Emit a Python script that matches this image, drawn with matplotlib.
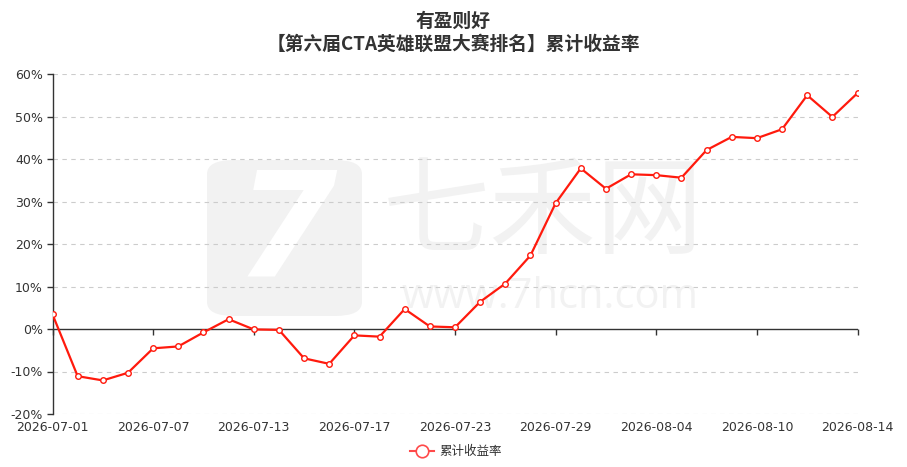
import matplotlib
matplotlib.use("Agg")
import matplotlib.pyplot as plt
from matplotlib.lines import Line2D
from matplotlib.patches import FancyBboxPatch

plt.rcParams['font.family'] = ['Noto Sans CJK SC', 'DejaVu Sans']

dates = ['2026-07-01', '2026-07-02', '2026-07-03', '2026-07-06', '2026-07-07',
         '2026-07-08', '2026-07-09', '2026-07-10', '2026-07-13', '2026-07-14',
         '2026-07-15', '2026-07-16', '2026-07-17', '2026-07-20', '2026-07-21',
         '2026-07-22', '2026-07-23', '2026-07-24', '2026-07-27', '2026-07-28',
         '2026-07-29', '2026-07-30', '2026-07-31', '2026-08-03', '2026-08-04',
         '2026-08-05', '2026-08-06', '2026-08-07', '2026-08-10', '2026-08-11',
         '2026-08-12', '2026-08-13', '2026-08-14']
returns = [3.45, -11.1, -12.1, -10.3, -4.55, -4.1, -0.8, 2.3, -0.1, -0.2,
           -6.9, -8.2, -1.5, -1.8, 4.7, 0.6, 0.4, 6.4, 10.7, 17.3,
           29.6, 37.8, 33.0, 36.4, 36.2, 35.6, 42.1, 45.2, 44.9, 47.0,
           55.0, 49.9, 55.5]
yticks = [-20, -10, 0, 10, 20, 30, 40, 50, 60]
series_name = '累计收益率'
title_1 = '有盈则好'
title_2 = '【第六届CTA英雄联盟大赛排名】累计收益率'

W, H = 907, 467
fig = plt.figure(figsize=(W / 100, H / 100), dpi=100)
ax = fig.add_axes([52.5 / W, 1 - 414 / H, (857.5 - 52.5) / W, (414 - 74) / H])

# watermark
wm = '#f2f2f2'
logo = FancyBboxPatch((207 / W, 1 - 316 / H), 155 / W, 156 / H,
                      boxstyle='round,pad=0,rounding_size=0.03',
                      transform=fig.transFigure, facecolor=wm, edgecolor='none', zorder=0.1)
ax.add_artist(logo)
ax.text(286 / W, 1 - 236 / H, '7', transform=fig.transFigure, ha='center', va='center',
        fontsize=105, fontweight='bold', fontstyle='italic', color='white',
        family='DejaVu Sans', zorder=0.15)
ax.text(543 / W, 1 - 214 / H, '七禾网', transform=fig.transFigure, ha='center', va='center',
        fontsize=77, color=wm, zorder=0.1)
ax.text(550 / W, 1 - 297 / H, 'www.7hcn.com', transform=fig.transFigure, ha='center',
        va='center', fontsize=30, color=wm, family='Open Sans', zorder=0.1)

# dashed grid, except at 0 where the x axis line sits
for v in yticks:
    if v != 0:
        ax.axhline(v, color='#cccccc', linestyle=(0, (4, 4)), lw=0.8, zorder=0.5)
ax.axhline(0, color='#333333', lw=1, zorder=2)

x = list(range(len(dates)))
ax.plot(x, returns, color='#ff1a0d', lw=1.6, marker='o', markersize=4,
        markerfacecolor='white', markeredgecolor='#ff1a0d', markeredgewidth=1, zorder=3)

ax.set_xlim(0, len(dates) - 1)
ax.set_ylim(-20, 60)
ax.set_yticks(yticks)
ax.set_yticklabels(['%d%%' % v for v in yticks], family='DejaVu Sans', fontsize=9, color='#333333')
tick_pos = x[::4]
ax.set_xticks(tick_pos)
ax.set_xticklabels([dates[i] for i in tick_pos], family='DejaVu Sans', fontsize=9, color='#333333')
ax.tick_params(axis='x', length=0, pad=5)
ax.tick_params(axis='y', length=4, width=1, color='#333333', pad=3)

for s in ['top', 'right', 'bottom']:
    ax.spines[s].set_visible(False)
ax.spines['left'].set_color('#333333')
ax.spines['left'].set_linewidth(1)

# tick marks hanging from the 0% line
zero_axis = ax.secondary_xaxis(20 / 80)
zero_axis.set_xticks(tick_pos)
zero_axis.set_xticklabels([])
zero_axis.tick_params(length=4, width=1, color='#333333', direction='out')
zero_axis.spines['bottom'].set_visible(False)

fig.text(0.5, 1 - 21 / H, title_1, ha='center', va='center', fontsize=13.5,
         fontweight='bold', color='#333333')
fig.text(0.5, 1 - 44 / H, title_2, ha='center', va='center', fontsize=13.5,
         fontweight='bold', color='#333333')

handle = Line2D([], [], color='#ff4a4a', lw=1.5, marker='o', markersize=9,
                markerfacecolor='white', markeredgecolor='#ff4a4a', markeredgewidth=1.2)
fig.legend([handle], [series_name], loc='center', bbox_to_anchor=(456 / W, 1 - 452 / H),
           frameon=False, fontsize=9, handlelength=1.9, handletextpad=0.4,
           labelcolor='#333333')

fig.savefig('out.png', dpi=100)
